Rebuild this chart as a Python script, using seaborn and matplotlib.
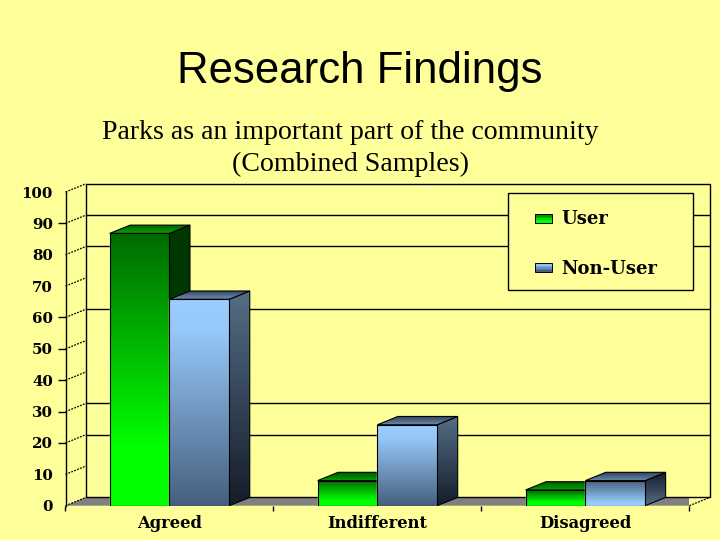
import numpy as np
import pandas as pd
import seaborn as sns
import matplotlib
matplotlib.use("Agg")
import matplotlib.pyplot as plt
from matplotlib.legend_handler import HandlerBase
from matplotlib.patches import Patch, Polygon, Rectangle

categories = ["Agreed", "Indifferent", "Disagreed"]
user_values = [86.8, 8.0, 5.0]
non_user_values = [65.8, 25.8, 8.0]
series_names = ["User", "Non-User"]
y_ticks = list(range(0, 101, 10))
grid_levels = [20, 30, 60, 80, 90, 100]
marked_ticks = [20, 30, 40, 50, 60, 90]

BG = "#FFFF99"
FLOOR = "#808080"
SERIF = "DejaVu Serif"
DEPTH_X_PX, DEPTH_Y_PX = 20.5, 8.3

STYLE = {
    "User": dict(
        front=[(0, (0, 105, 0)), (0.78, (0, 255, 0)), (1, (0, 255, 0))],
        side=[(0, (0, 55, 0)), (1, (0, 55, 0))],
        top=[(0, (0, 85, 0)), (1, (0, 165, 0))],
    ),
    "Non-User": dict(
        front=[(0, (155, 205, 255)), (0.15, (150, 200, 250)), (1, (70, 95, 125))],
        side=[(0, (85, 110, 135)), (1, (20, 28, 40))],
        top=[(0, (45, 65, 90)), (1, (110, 140, 175))],
    ),
}

sns.set_style("white")
plt.rcParams["font.family"] = ["DejaVu Sans"]
plt.rcParams["text.color"] = "black"
plt.rcParams["xtick.color"] = "black"
plt.rcParams["ytick.color"] = "black"

df = pd.DataFrame({
    "category": categories * 2,
    "series": [series_names[0]] * 3 + [series_names[1]] * 3,
    "value": user_values + non_user_values,
})

fig = plt.figure(figsize=(7.2, 5.4), dpi=100, facecolor=BG)
ax = fig.add_axes([65.5 / 720, (540 - 505.7) / 540, 623.8 / 720, 313.7 / 540])
ax.set_facecolor("none")

sns.barplot(data=df, x="category", y="value", hue="series", order=categories,
            hue_order=series_names, width=0.575, gap=0, dodge=True, legend=False,
            palette=["#00C000", "#7090B8"], ax=ax, zorder=5)
bars = [p for p in ax.patches if p.get_width() > 0]
ax.set_xlim(-0.5, 2.5)
ax.set_ylim(0, 100)
ax.set_xlabel("")
ax.set_ylabel("")

dx = DEPTH_X_PX * 3 / 623.8
dy = DEPTH_Y_PX * 100 / 313.7


def ramp(stops, n=256):
    pos = [s[0] for s in stops]
    arr = np.stack([np.interp(np.linspace(0, 1, n), pos, [s[1][c] / 255 for s in stops])
                    for c in range(3)], axis=1)
    return arr[:, None, :]


def shade(stops, clip, extent, z, flip=False):
    img = ramp(stops)
    if flip:
        img = img[::-1]
    im = ax.imshow(img, extent=extent, aspect="auto", origin="upper",
                   interpolation="bilinear", zorder=z)
    im.set_clip_path(clip)


# floor and back wall
ax.add_patch(Polygon([(-0.5, 0), (2.5, 0), (2.5 + dx, dy), (-0.5 + dx, dy)],
                     closed=True, fc=FLOOR, ec="none", zorder=1))
wall = dict(color="black", lw=1.0, clip_on=False, zorder=2)
ax.plot([-0.5 + dx, -0.5 + dx], [dy, 100 + dy], **wall)
ax.plot([2.5 + dx, 2.5 + dx], [dy, 100 + dy], **wall)
ax.plot([-0.5 + dx, 2.5 + dx], [dy, dy], **wall)
for level in grid_levels:
    ax.plot([-0.5 + dx, 2.5 + dx], [level + dy, level + dy], **wall)
for level in y_ticks:
    ax.plot([-0.5, -0.5 + dx], [level, level + dy], color="black", lw=0.9,
            ls=(0, (1.5, 1)), clip_on=False, zorder=2)
ax.plot([2.5, 2.5 + dx], [0, dy], color="black", lw=0.9, ls=(0, (1.5, 1)),
        clip_on=False, zorder=2)

# bars with 3-D faces, left to right
n_cat = len(categories)
labelled = []
for i, p in enumerate(bars):
    labelled.append((p.get_x(), p, series_names[0] if i < n_cat else series_names[1]))
labelled.sort(key=lambda t: t[0])

z = 5.0
for x0, p, name in labelled:
    st = STYLE[name]
    x1, h = x0 + p.get_width(), p.get_height()
    flip = name == "Non-User" and h < 10
    edge = dict(ec="black", lw=0.8, fill=False)
    p.set_zorder(z)
    side = Polygon([(x1, 0), (x1 + dx, dy), (x1 + dx, h + dy), (x1, h)], closed=True, fc="none", ec="none", zorder=z)
    ax.add_patch(side)
    shade(st["side"], side, [x1, x1 + dx, 0, h + dy], z + 0.1, flip)
    ax.add_patch(Polygon(side.get_xy(), closed=True, zorder=z + 0.2, **edge))
    top = Polygon([(x0, h), (x1, h), (x1 + dx, h + dy), (x0 + dx, h + dy)], closed=True, fc="none", ec="none", zorder=z)
    ax.add_patch(top)
    shade(st["top"], top, [x0, x1 + dx, h, h + dy], z + 0.3)
    ax.add_patch(Polygon(top.get_xy(), closed=True, zorder=z + 0.4, **edge))
    face = Rectangle((x0, 0), x1 - x0, h, fc="none", ec="none", zorder=z)
    ax.add_patch(face)
    shade(st["front"], face, [x0, x1, 0, h], z + 0.5, flip)
    ax.add_patch(Rectangle((x0, 0), x1 - x0, h, zorder=z + 0.6, **edge))
    z += 1

ax.set_xlim(-0.5, 2.5)
ax.set_ylim(0, 100)

# axes
for s in ["top", "right", "bottom"]:
    ax.spines[s].set_visible(False)
ax.spines["left"].set_linewidth(1.0)
ax.spines["left"].set_color("black")
ax.spines["left"].set_bounds(0, 100)
ax.set_yticks(y_ticks)
ax.set_yticklabels([str(v) for v in y_ticks], fontfamily=SERIF, fontweight="bold", fontsize=10.8, color="black")
ax.tick_params(axis="y", left=True, length=5.6, width=1.0, pad=3.5, colors="black")
for t, v in zip(ax.yaxis.get_major_ticks(), y_ticks):
    t.tick1line.set_visible(v in marked_ticks)
ax.set_xticks(range(len(categories)))
ax.set_xticklabels(categories, fontfamily=SERIF, fontweight="bold", fontsize=11.8, color="black")
ax.tick_params(axis="x", which="major", bottom=False, length=0, pad=6.5)
ax.set_xticks([-0.5, 0.5, 1.5, 2.5], minor=True)
ax.tick_params(axis="x", which="minor", bottom=True, length=3.4, width=1.0, color="black")


class Swatch(HandlerBase):
    def __init__(self, stops):
        super().__init__()
        self.stops = stops

    def create_artists(self, legend, orig, xd, yd, w, h, fs, trans):
        sw_w, sw_h = 12.2, 6.5
        x = w - sw_w
        y = (h - sw_h) / 2
        colors = ramp(self.stops, 6)[:, 0, :]
        out = []
        for k, c in enumerate(colors):
            out.append(Rectangle((x, y + sw_h * (1 - (k + 1) / 6)), sw_w, sw_h / 6,
                                 fc=c, ec="none", transform=trans))
        out.append(Rectangle((x, y), sw_w, sw_h, fill=False, ec="black", lw=0.7, transform=trans))
        return out


ax.add_patch(Rectangle((508 / 720, 1 - 290 / 540), 185 / 720, 97 / 540, transform=fig.transFigure,
                       fc=BG, ec="black", lw=1.0, clip_on=False, zorder=19))
handles = [Patch(label=n) for n in series_names]
leg = ax.legend(handles=handles, labels=series_names, loc="upper left",
                bbox_to_anchor=(508.5 / 720, 1 - 191.5 / 540), bbox_transform=fig.transFigure,
                borderaxespad=0, frameon=False, labelcolor="black",
                prop=dict(family=SERIF, weight="bold", size=13),
                borderpad=1.05, handlelength=1.38, handletextpad=0.5, labelspacing=1.73,
                handler_map={handles[0]: Swatch(STYLE["User"]["front"]),
                             handles[1]: Swatch(STYLE["Non-User"]["front"])})
leg.set_zorder(20)

fig.text(360 / 720, 1 - 72 / 540, "Research Findings", ha="center", va="center",
         family="Liberation Sans", fontsize=31.5, color="black")
fig.text(350 / 720, 1 - 148.5 / 540, "Parks as an important part of the community\n(Combined Samples)",
         ha="center", va="center", family="Liberation Serif", fontsize=20.1, color="black",
         linespacing=1.36)

fig.savefig("out.png", dpi=100, facecolor=BG)
